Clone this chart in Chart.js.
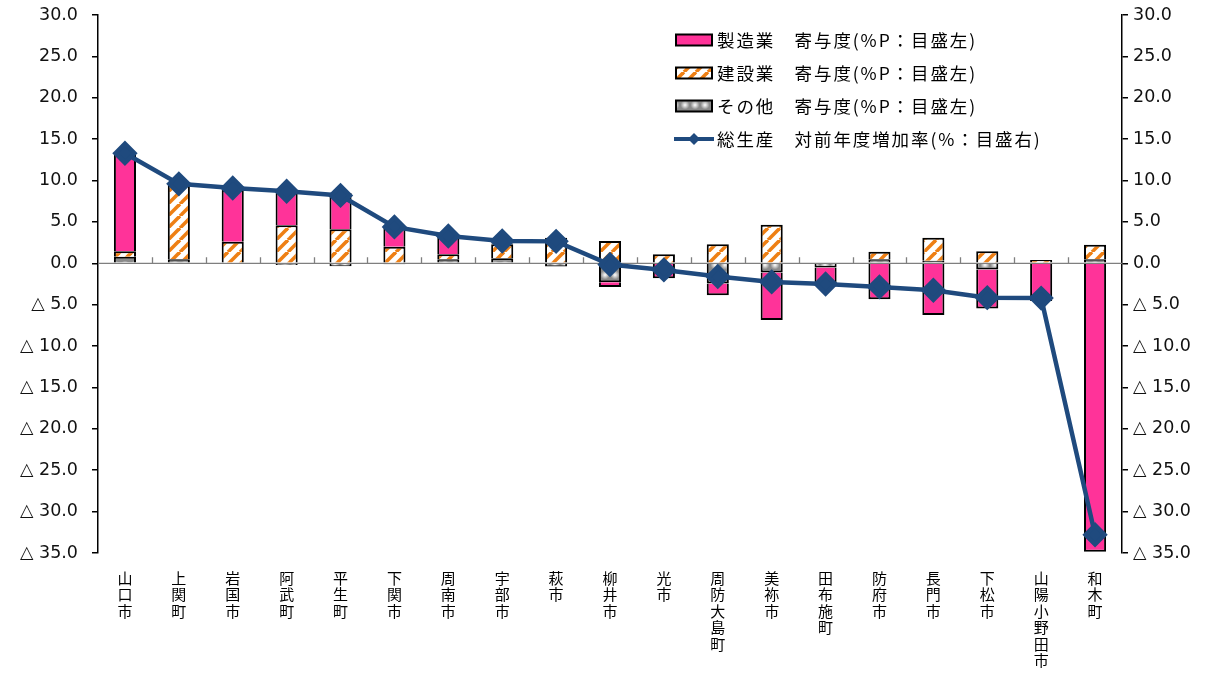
<!DOCTYPE html>
<html>
<head>
<meta charset="utf-8">
<script src="https://cdn.jsdelivr.net/npm/chart.js@4.4.0/dist/chart.umd.min.js"></script>
<style>
body{margin:0;background:#fff}
</style>
</head>
<body>
<canvas id="myChart" width="1219" height="673"></canvas>
<script>
var cities = ["山口市","上関町","岩国市","阿武町","平生町","下関市","周南市","宇部市","萩市","柳井市","光市","周防大島町","美祢市","田布施町","防府市","長門市","下松市","山陽小野田市","和木町"]
var manufacturing = [11.85, 0, 6.3, 4.0, 4.4, 2.5, 2.3, 0.1, 0.3, -0.55, -1.8, -1.4, -5.75, -1.9, -4.35, -6.25, -4.7, -4.55, -34.85]
var construction = [0.65, 9.0, 2.6, 4.6, 4.1, 2.0, 0.6, 1.7, 2.8, 2.7, 1.1, 2.3, 4.65, 0, 0.9, 2.8, 1.45, 0.3, 1.75]
var others = [0.8, 0.5, 0, -0.2, -0.35, -0.1, 0.5, 0.6, -0.4, -2.3, 0, -2.45, -1.1, -0.5, 0.5, 0.3, -0.75, 0.1, 0.5]
var growth = [13.3, 9.6, 9.1, 8.7, 8.2, 4.4, 3.3, 2.7, 2.65, -0.15, -0.8, -1.6, -2.25, -2.5, -2.85, -3.25, -4.15, -4.2, -32.8]
var yTicks = [30, 25, 20, 15, 10, 5, 0, -5, -10, -15, -20, -25, -30, -35]
var names = ["製造業　寄与度(%P：目盛左)", "建設業　寄与度(%P：目盛左)", "その他　寄与度(%P：目盛左)", "総生産　対前年度増加率(%：目盛右)"]

var numFont = "'DejaVu Sans', 'Noto Sans CJK JP', sans-serif"
var jpFont = "'Noto Sans CJK JP', sans-serif"

// fill patterns
var ctx = document.getElementById("myChart").getContext('2d')
function hatch(){
    var c = document.createElement('canvas'); c.width = c.height = 12
    var g = c.getContext('2d')
    g.fillStyle = '#fff'; g.fillRect(0,0,12,12)
    g.strokeStyle = '#EE7F14'; g.lineWidth = 3.6
    for (var k=-1;k<=1;k++){ g.beginPath(); g.moveTo(k*12,12); g.lineTo(k*12+12,0); g.stroke() }
    return ctx.createPattern(c,'repeat')
}
function dots(){
    var c = document.createElement('canvas'); c.width = c.height = 10
    var g = c.getContext('2d')
    g.fillStyle = '#8a8a8a'; g.fillRect(0,0,10,10)
    var gr = g.createRadialGradient(5,5,0,5,5,4.5)
    gr.addColorStop(0,'rgba(255,255,255,1)'); gr.addColorStop(1,'rgba(255,255,255,0)')
    g.fillStyle = gr; g.fillRect(0,0,10,10)
    return ctx.createPattern(c,'repeat')
}
var pink = '#FF3399', hatchFill = hatch(), dotFill = dots(), navy = '#1F4A7E'

function fmt(v){ return v < 0 ? '△ ' + (-v).toFixed(1) : v.toFixed(1) }

var zeroLine = {
    id: 'zeroLine',
    beforeDatasetsDraw: function(chart){
        var c = chart.ctx, xs = chart.scales.x, y0 = chart.scales.y.getPixelForValue(0), a = chart.chartArea
        c.save()
        c.strokeStyle = '#7f7f7f'; c.lineWidth = 1.3
        c.beginPath(); c.moveTo(a.left, y0); c.lineTo(a.right, y0)
        for (var i=0;i<cities.length-1;i++){
            var bx = Math.round((xs.getPixelForValue(i)+xs.getPixelForValue(i+1))/2) + 0.5
            c.moveTo(bx, y0); c.lineTo(bx, y0-6)
        }
        c.stroke(); c.restore()
    }
}

var legendBox = {
    id: 'legendBox',
    afterDraw: function(chart){
        var c = chart.ctx, fills = [pink, hatchFill, dotFill], rows = [40, 73, 106, 139]
        c.save()
        c.font = "17.5px " + jpFont
        c.letterSpacing = '1.9px'
        c.textBaseline = 'middle'; c.fillStyle = '#000'
        for (var i=0;i<4;i++){
            var y = rows[i]
            if (i < 3){
                c.fillStyle = fills[i]; c.fillRect(676, y-5.5, 36, 11)
                c.strokeStyle = '#000'; c.lineWidth = 2; c.strokeRect(676, y-5.5, 36, 11)
            } else {
                c.strokeStyle = navy; c.lineWidth = 4
                c.beginPath(); c.moveTo(674, y); c.lineTo(714, y); c.stroke()
                c.fillStyle = navy; c.beginPath()
                c.moveTo(694, y-6); c.lineTo(700, y); c.lineTo(694, y+6); c.lineTo(688, y); c.fill()
            }
            c.fillStyle = '#000'
            c.fillText(names[i], 717, y)
        }
        c.restore()
    }
}

function fitY(w){
    return function(s){ s.width = w; s.paddingTop = 0 }
}

var chart = new Chart(ctx, {
    type: 'bar',
    data: {
        labels: cities.map(function(s){ return s.split('') }),
        datasets: [
            {
                type: 'line', label: names[3], data: growth, yAxisID: 'y2', order: 0,
                borderColor: navy, backgroundColor: navy, borderWidth: 4.5,
                pointStyle: 'rectRot', pointRadius: 9.5, pointHoverRadius: 9.5, tension: 0
            },
            { label: names[2], data: others, backgroundColor: dotFill, borderColor: '#000', borderWidth: 2, order: 1 },
            { label: names[1], data: construction, backgroundColor: hatchFill, borderColor: '#000', borderWidth: 2, order: 1 },
            { label: names[0], data: manufacturing, backgroundColor: pink, borderColor: '#000', borderWidth: 2, order: 1 }
        ]
    },
    options: {
        responsive: false,
        animation: false,
        barPercentage: 0.41,
        categoryPercentage: 1,
        layout: { padding: { top: 15, left: 0, right: 0, bottom: 0 } },
        plugins: { legend: { display: false }, tooltip: { enabled: false } },
        scales: {
            x: {
                stacked: true,
                grid: { display: false },
                border: { display: false },
                ticks: { autoSkip: false, maxRotation: 0, padding: 9, color: '#000', font: { family: jpFont, size: 15, lineHeight: 1.1 } },
                afterFit: function(s){ s.height = 120 }
            },
            y: {
                stacked: true, position: 'left', min: -35, max: 30,
                afterBuildTicks: function(s){ s.ticks = yTicks.map(function(v){ return {value: v} }) },
                grid: { drawOnChartArea: false, color: '#000', lineWidth: 1.5, tickLength: 6 },
                border: { color: '#000', width: 1.5 },
                ticks: { padding: 14, color: '#111', callback: fmt, font: { family: numFont, size: 17.5 } },
                afterFit: fitY(98)
            },
            y2: {
                position: 'right', min: -35, max: 30,
                afterBuildTicks: function(s){ s.ticks = yTicks.map(function(v){ return {value: v} }) },
                grid: { drawOnChartArea: false, color: '#000', lineWidth: 1.5, tickLength: 6 },
                border: { color: '#000', width: 1.5 },
                ticks: { padding: 5, color: '#111', callback: fmt, font: { family: numFont, size: 17.5 } },
                afterFit: fitY(97)
            }
        }
    },
    plugins: [zeroLine, legendBox]
})
</script>
</body>
</html>
